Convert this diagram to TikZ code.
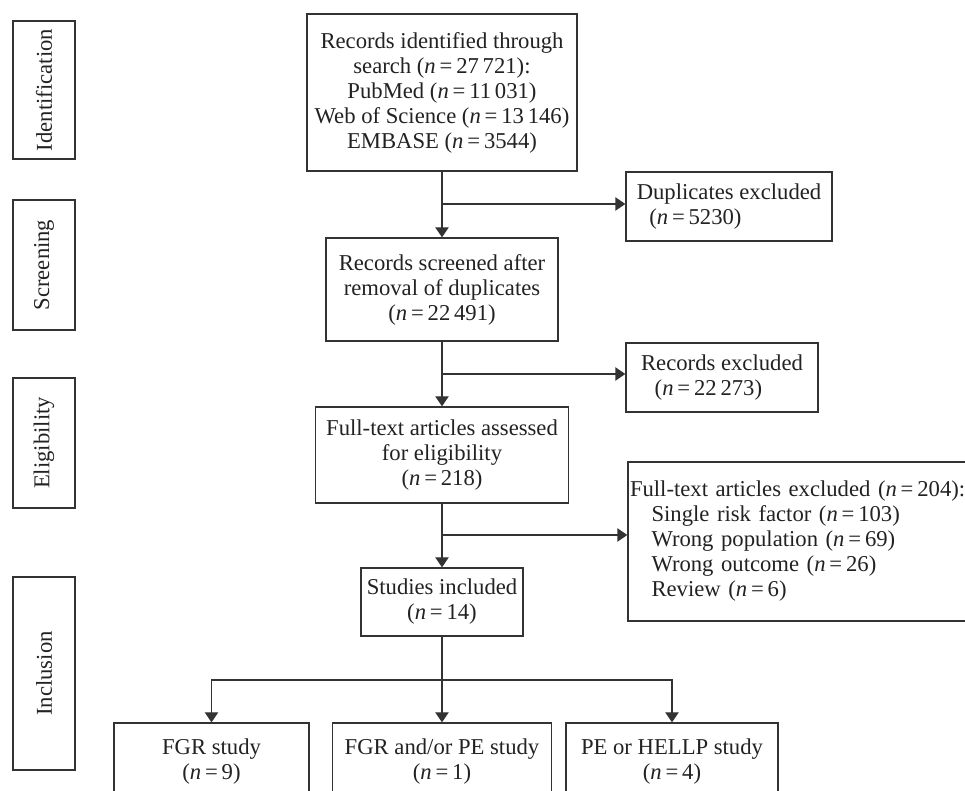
\documentclass[tikz,border=0pt]{standalone}
\usepackage{fontspec}
\setmainfont{Liberation Serif}
\usetikzlibrary{arrows.meta}
\definecolor{linec}{HTML}{333333}
\definecolor{textc}{HTML}{222222}
\newcommand\nv[1]{(\textit{n}\hspace{0.17em}=\hspace{0.17em}#1)}
\begin{document}
\begin{tikzpicture}[x=0.75pt,y=-0.75pt,
  box/.style={draw=linec, line width=1pt, inner sep=0pt, align=center,
    text=textc, font=\fontsize{17}{18.75}\selectfont},
  phase/.style={box, rotate=90},
  arr/.style={draw=linec, line width=1pt, -{Triangle[length=7.5pt,width=10pt]}},
  link/.style={draw=linec, line width=1pt}]
\useasboundingbox (0,0) rectangle (965,791);
\fill[white] (0,0) rectangle (965,791);

% phase labels
\node[phase, minimum width=138*0.75pt, minimum height=62*0.75pt] (p1) at (44,90) {Identification};
\node[phase, minimum width=130*0.75pt, minimum height=62*0.75pt] (p2) at (44,265) {Screening};
\node[phase, minimum width=130*0.75pt, minimum height=62*0.75pt] (p3) at (44,443) {Eligibility};
\node[phase, minimum width=193*0.75pt, minimum height=62*0.75pt] (p4) at (44,673.5) {Inclusion};

% main column
\node[box, minimum width=270*0.75pt, minimum height=157*0.75pt] (id) at (442,92.5)
  {Records identified through\\ search \nv{27\,721}:\\ PubMed \nv{11\,031}\\ Web of Science \nv{13\,146}\\ EMBASE \nv{3544}};
\node[box, minimum width=232*0.75pt, minimum height=103*0.75pt] (scr) at (442,289.5)
  {Records screened after\\ removal of duplicates\\ \nv{22\,491}};
\node[box, minimum width=253*0.75pt, minimum height=96*0.75pt] (full) at (442,455)
  {Full-text articles assessed\\ for eligibility\\ \nv{218}};
\node[box, minimum width=162*0.75pt, minimum height=68*0.75pt] (stud) at (442,602)
  {Studies included\\ \nv{14}};

% exclusion boxes
\node[box, align=left, minimum width=206*0.75pt, minimum height=69*0.75pt] (dup) at (729,206.5)
  {Duplicates excluded\\\hspace*{0.55em}\nv{5230}};
\node[box, align=left, minimum width=192*0.75pt, minimum height=69*0.75pt] (rexc) at (722,377.5)
  {Records excluded\\\hspace*{0.6em}\nv{22\,273}};
\node[box, align=left, text width=368*0.75pt, minimum width=372*0.75pt, minimum height=159*0.75pt] (fexc) at (814,541.5)
  {Full-text articles excluded \nv{204}:\\
   \hspace*{0.95em}Single risk factor \nv{103}\\
   \hspace*{0.95em}Wrong population \nv{69}\\
   \hspace*{0.95em}Wrong outcome \nv{26}\\
   \hspace*{0.95em}Review \nv{6}};

% bottom row
\node[box, minimum width=195*0.75pt, minimum height=77*0.75pt] (fgr) at (211.5,761.5)
  {FGR study\\ \nv{9}};
\node[box, minimum width=219*0.75pt, minimum height=77*0.75pt] (fgrpe) at (442,761.5)
  {FGR and/or PE study\\ \nv{1}};
\node[box, minimum width=212*0.75pt, minimum height=77*0.75pt] (pe) at (672,761.5)
  {PE or HELLP study\\ \nv{4}};

% branch points
\coordinate (b1) at (442,204);
\coordinate (b2) at (442,374);
\coordinate (b3) at (442,535);
\coordinate (sp) at (442,680);

% connectors
\draw[arr] (id.south) -- (scr.north);
\draw[arr] (b1) -- (b1 -| dup.west);
\draw[arr] (scr.south) -- (full.north);
\draw[arr] (b2) -- (b2 -| rexc.west);
\draw[arr] (full.south) -- (stud.north);
\draw[arr] (b3) -- (b3 -| fexc.west);
\draw[arr] (stud.south) -- (fgrpe.north);
\draw[arr] (sp) -| (fgr.north);
\draw[arr] (sp) -| (pe.north);
\end{tikzpicture}
\end{document}
